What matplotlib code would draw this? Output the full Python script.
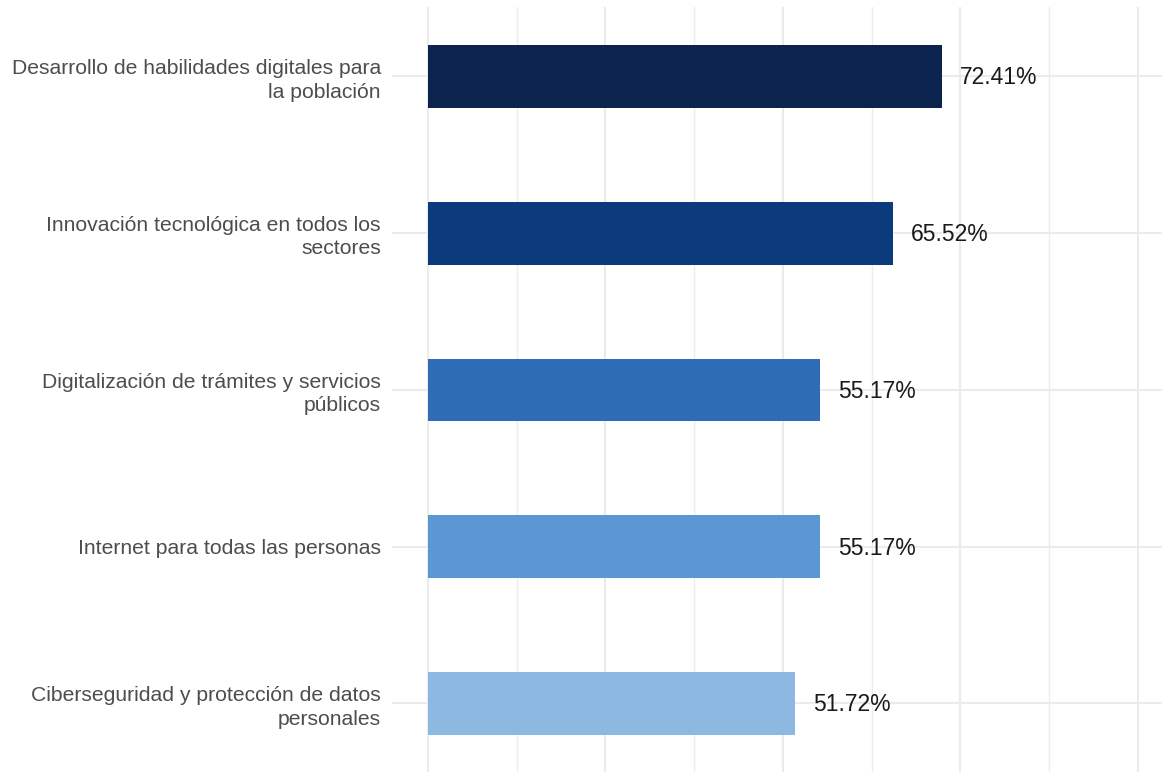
import matplotlib
matplotlib.use("Agg")
import matplotlib.pyplot as plt
from matplotlib.ticker import MultipleLocator

plt.rcParams['font.family'] = ['Liberation Sans', 'DejaVu Sans']

categories = [
    "Ciberseguridad y protección de datos\npersonales",
    "Internet para todas las personas",
    "Digitalización de trámites y servicios\npúblicos",
    "Innovación tecnológica en todos los\nsectores",
    "Desarrollo de habilidades digitales para\nla población",
]
values = [51.72, 55.17, 55.17, 65.52, 72.41]
colors = ["#8DB8E2", "#5B97D3", "#2E6DB5", "#0B3B7C", "#0B234D"]
value_labels = ["51.72%", "55.17%", "55.17%", "65.52%", "72.41%"]

W, H = 1162, 772
fig = plt.figure(figsize=(W / 100, H / 100), dpi=100)
ax = fig.add_axes([392 / W, 0, 1 - 392 / W, 1 - 7 / H])

pos = list(range(1, len(categories) + 1))
ax.barh(pos, values, height=0.40, color=colors, zorder=2)

for p, v, lab in zip(pos, values, value_labels):
    ax.annotate(lab, xy=(v, p), xytext=(13, -1), textcoords="offset points",
                va="center", ha="left", fontsize=16.5, color="#1a1a1a", zorder=3)

ax.set_xlim(-5.05, 103.4)
ax.set_ylim(0.563, 5.443)
ax.set_yticks(pos)
ax.set_yticklabels(categories, fontsize=15.2, color="#4D4D4D", linespacing=1.28)
ax.tick_params(axis="y", length=0, pad=8)
ax.tick_params(axis="x", which="both", length=0, labelbottom=False)
ax.xaxis.set_major_locator(MultipleLocator(25))
ax.xaxis.set_minor_locator(MultipleLocator(12.5))
ax.grid(axis="x", which="major", color="#EBEBEB", linewidth=1.5, zorder=0)
ax.grid(axis="x", which="minor", color="#EDEDED", linewidth=1.0, zorder=0)
ax.grid(axis="y", which="major", color="#EBEBEB", linewidth=1.5, zorder=0)
ax.set_axisbelow(True)
for s in ax.spines.values():
    s.set_visible(False)

fig.savefig("out.png", dpi=100, facecolor="white")
